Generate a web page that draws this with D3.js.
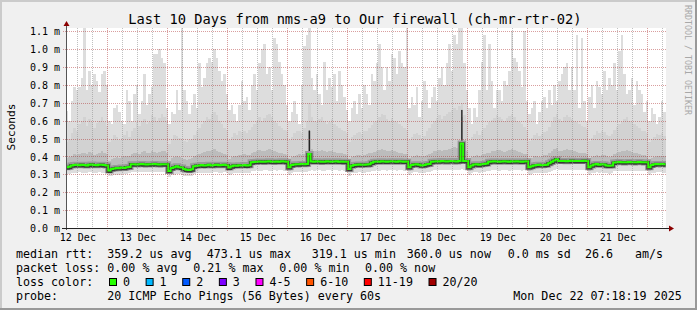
<!DOCTYPE html>
<html>
<head>
<script src="https://d3js.org/d3.v7.min.js"></script>
<style>
  body { margin: 0; background: #f0f0f0; }
  svg { display: block; font-family: 'DejaVu Sans Mono', monospace; }
</style>
</head>
<body>
<div id="chart"></div>
<script>
// hourly samples, Dec 12 07:18 .. Dec 22 07:18, values in microseconds
const rttMedian = [
  339, 342, 350, 352, 353, 351, 354, 352, 350, 353, 355, 352, 351, 353, 354, 352, 350, 321, 330, 333,
  336, 334, 338, 336, 340, 341, 357, 356, 355, 357, 358, 356, 355, 357, 356, 358, 357, 355, 356, 357,
  356, 319, 335, 340, 345, 340, 338, 330, 326, 324, 328, 345, 348, 350, 352, 349, 351, 353, 350, 352,
  354, 351, 352, 353, 351, 338, 345, 350, 348, 351, 350, 352, 349, 351, 367, 369, 370, 372, 371, 370,
  372, 373, 371, 370, 372, 371, 373, 372, 370, 340, 352, 355, 357, 356, 358, 357, 358, 413, 372, 371,
  373, 372, 370, 371, 373, 372, 371, 372, 373, 371, 372, 370, 371, 330, 348, 352, 354, 355, 353, 354,
  355, 356, 365, 370, 372, 371, 373, 372, 371, 372, 373, 372, 371, 373, 372, 371, 372, 340, 352, 355,
  357, 354, 350, 352, 356, 358, 370, 372, 373, 372, 374, 373, 372, 373, 374, 373, 372, 374, 473, 375,
  374, 340, 350, 355, 357, 353, 356, 358, 360, 370, 372, 373, 372, 371, 372, 373, 372, 371, 373, 372,
  373, 372, 371, 372, 373, 340, 345, 350, 352, 353, 351, 352, 354, 362, 370, 378, 385, 375, 374, 375,
  373, 374, 376, 375, 374, 375, 374, 376, 375, 340, 350, 355, 358, 354, 356, 355, 350, 348, 350, 366,
  368, 369, 368, 367, 368, 369, 368, 367, 368, 369, 368, 367, 368, 340, 352, 356, 358, 357, 358, 356
];
const pingMax = [
  655, 600, 710, 790, 770, 790, 840, 1150, 770, 880, 800, 860, 820, 760, 860, 880, 800, 600, 580, 670,
  690, 650, 600, 580, 770, 710, 600, 750, 800, 640, 710, 860, 690, 750, 790, 970, 970, 1000, 950, 920,
  670, 580, 650, 640, 770, 660, 1120, 770, 710, 640, 690, 750, 670, 920, 790, 840, 920, 950, 930, 1000,
  950, 880, 820, 860, 750, 660, 690, 640, 600, 690, 820, 710, 730, 660, 800, 860, 770, 920, 1000, 1030,
  860, 900, 770, 1060, 1030, 930, 860, 800, 690, 600, 650, 710, 640, 580, 800, 1020, 1080, 1150, 840, 770,
  860, 750, 690, 930, 770, 840, 790, 860, 710, 880, 800, 730, 660, 600, 670, 710, 640, 750, 670, 800,
  750, 690, 860, 820, 920, 1030, 900, 770, 900, 820, 970, 950, 860, 990, 920, 900, 1150, 670, 730, 690,
  790, 620, 710, 820, 770, 670, 730, 790, 710, 840, 900, 800, 920, 1030, 880, 1080, 1030, 1150, 1150, 920,
  770, 670, 580, 670, 620, 770, 930, 1080, 770, 1030, 820, 670, 770, 770, 710, 820, 800, 880, 1100, 950,
  930, 880, 790, 1100, 710, 640, 670, 710, 580, 650, 710, 730, 670, 770, 690, 800, 710, 820, 860, 900,
  920, 770, 900, 770, 1080, 670, 1060, 710, 600, 730, 800, 670, 820, 790, 750, 880, 770, 840, 800, 920,
  770, 990, 1080, 860, 750, 770, 840, 690, 820, 770, 750, 650, 710, 600, 670, 640, 580, 620, 710, 650
];
const pingHi = [
  480, 500, 530, 560, 540, 580, 600, 620, 570, 610, 590, 560, 585, 600, 620, 590, 570, 480, 500, 520,
  510, 490, 505, 520, 540, 510, 545, 560, 590, 570, 600, 610, 580, 595, 630, 620, 600, 615, 640, 620,
  600, 470, 500, 520, 515, 505, 495, 485, 480, 490, 500, 520, 545, 560, 580, 600, 620, 610, 640, 650,
  630, 600, 580, 560, 550, 490, 510, 530, 520, 540, 535, 545, 530, 550, 565, 580, 600, 620, 600, 615,
  630, 640, 620, 600, 585, 570, 560, 550, 540, 490, 510, 530, 540, 545, 530, 560, 600, 700, 620, 600,
  590, 610, 620, 600, 580, 590, 610, 580, 570, 560, 550, 540, 530, 480, 510, 520, 530, 535, 525, 540,
  545, 560, 575, 590, 600, 620, 640, 630, 610, 600, 615, 600, 590, 580, 570, 560, 550, 490, 510, 525,
  530, 520, 505, 515, 540, 560, 580, 600, 615, 630, 610, 625, 640, 650, 660, 670, 660, 680, 700, 630,
  600, 490, 510, 525, 540, 520, 545, 560, 575, 590, 605, 615, 630, 620, 610, 600, 615, 625, 640, 620,
  600, 590, 580, 565, 550, 485, 505, 520, 530, 515, 525, 535, 545, 565, 590, 620, 640, 610, 600, 620,
  630, 620, 610, 600, 590, 580, 570, 565, 555, 485, 505, 520, 540, 530, 545, 535, 520, 515, 525, 550,
  565, 580, 590, 610, 620, 600, 590, 580, 570, 560, 545, 540, 530, 480, 500, 510, 525, 520, 530, 515
];
const pingMid = [
  392, 398, 405, 412, 408, 415, 420, 418, 412, 425, 418, 410, 416, 422, 428, 420, 415, 372, 385, 390,
  396, 392, 398, 402, 405, 400, 412, 418, 420, 415, 425, 428, 418, 422, 430, 426, 420, 424, 432, 428,
  420, 368, 390, 398, 404, 396, 392, 386, 380, 384, 390, 402, 410, 415, 420, 425, 430, 428, 435, 440,
  432, 426, 420, 415, 410, 385, 398, 405, 402, 410, 408, 412, 406, 410, 420, 425, 430, 435, 428, 432,
  438, 442, 436, 430, 425, 420, 418, 415, 410, 385, 398, 405, 410, 412, 408, 416, 430, 540, 440, 432,
  428, 432, 436, 430, 425, 428, 432, 426, 422, 420, 418, 415, 410, 380, 395, 402, 406, 408, 404, 410,
  412, 418, 422, 426, 430, 436, 440, 438, 432, 430, 434, 428, 425, 420, 418, 415, 412, 388, 398, 405,
  408, 402, 398, 404, 410, 415, 420, 428, 432, 436, 430, 434, 438, 442, 445, 450, 448, 452, 620, 440,
  430, 385, 398, 404, 408, 402, 410, 414, 418, 422, 428, 432, 438, 435, 430, 426, 432, 436, 440, 434,
  428, 424, 420, 416, 412, 382, 392, 400, 404, 398, 402, 406, 410, 418, 428, 440, 445, 432, 430, 436,
  440, 438, 434, 430, 426, 422, 420, 418, 415, 380, 395, 402, 408, 404, 410, 406, 400, 398, 402, 415,
  420, 425, 428, 432, 436, 430, 426, 422, 418, 414, 410, 408, 405, 380, 392, 398, 404, 402, 405, 400
];
const pingLow = [
  325, 328, 333, 335, 336, 334, 337, 335, 333, 336, 338, 335, 334, 336, 337, 335, 333, 305, 313, 316,
  319, 317, 321, 320, 324, 322, 338, 339, 337, 339, 340, 338, 337, 339, 338, 340, 339, 337, 338, 339,
  338, 304, 318, 322, 327, 322, 320, 313, 310, 308, 312, 328, 331, 333, 335, 332, 334, 336, 333, 335,
  337, 334, 335, 336, 334, 320, 327, 333, 330, 334, 332, 335, 331, 334, 348, 350, 351, 353, 352, 351,
  353, 354, 352, 351, 353, 352, 354, 353, 351, 320, 334, 337, 339, 338, 340, 339, 340, 360, 353, 352,
  354, 353, 351, 352, 354, 353, 352, 353, 354, 352, 353, 351, 352, 311, 329, 333, 335, 336, 334, 335,
  336, 337, 346, 351, 353, 352, 354, 353, 352, 353, 354, 353, 352, 354, 353, 352, 353, 320, 333, 336,
  338, 335, 331, 333, 337, 339, 351, 353, 354, 353, 355, 354, 353, 354, 355, 354, 353, 355, 380, 356,
  355, 320, 331, 336, 338, 334, 337, 339, 341, 351, 353, 354, 353, 352, 353, 354, 353, 352, 354, 353,
  354, 353, 352, 353, 354, 320, 326, 331, 333, 334, 332, 333, 335, 343, 351, 359, 366, 356, 355, 356,
  355, 356, 357, 356, 355, 357, 356, 357, 356, 320, 331, 336, 339, 335, 337, 336, 331, 329, 331, 347,
  349, 350, 349, 348, 349, 350, 349, 348, 349, 350, 349, 348, 349, 320, 333, 337, 339, 338, 339, 337
];
const pingMin = [
  300, 302, 308, 310, 309, 311, 310, 308, 309, 311, 312, 310, 309, 311, 310, 308, 309, 288, 292, 296,
  298, 297, 300, 302, 303, 305, 312, 313, 311, 312, 314, 313, 312, 311, 313, 314, 312, 311, 313, 312,
  311, 286, 294, 298, 302, 300, 298, 292, 290, 289, 291, 302, 305, 308, 309, 307, 308, 310, 309, 311,
  312, 309, 310, 311, 309, 296, 302, 306, 305, 308, 307, 309, 306, 308, 318, 320, 322, 321, 320, 322,
  323, 321, 320, 322, 321, 323, 322, 321, 320, 298, 308, 312, 313, 312, 314, 313, 314, 320, 322, 321,
  323, 322, 320, 321, 323, 322, 321, 322, 323, 321, 322, 320, 321, 292, 305, 309, 310, 311, 309, 310,
  311, 312, 318, 321, 322, 321, 323, 322, 321, 322, 323, 322, 321, 323, 322, 321, 322, 298, 308, 311,
  313, 310, 306, 308, 312, 314, 320, 322, 323, 322, 324, 323, 322, 323, 324, 323, 322, 324, 330, 325,
  324, 298, 306, 311, 313, 309, 312, 314, 316, 320, 322, 323, 322, 321, 322, 323, 322, 321, 323, 322,
  323, 322, 321, 322, 323, 296, 300, 305, 307, 308, 306, 307, 309, 315, 320, 326, 330, 324, 323, 324,
  323, 324, 326, 325, 324, 325, 324, 326, 325, 298, 305, 310, 313, 309, 311, 310, 305, 303, 305, 316,
  318, 319, 318, 317, 318, 319, 318, 317, 318, 319, 318, 317, 318, 296, 306, 310, 312, 311, 312, 310
];
// columns where the inner pings jumped (dark spike) and how high
const spikeCols = [97, 158];
const spikeTops = [545, 660];

const yTicks = [0, 100, 200, 300, 400, 500, 600, 700, 800, 900, 1000, 1100];
const dayLabels = ["12 Dec", "13 Dec", "14 Dec", "15 Dec", "16 Dec", "17 Dec", "18 Dec", "19 Dec", "20 Dec", "21 Dec"];

const titleText = "Last 10 Days from nms-a9 to Our firewall (ch-mr-rtr-02)";
const rttStats = ["359.2 us avg", "473.1 us max", "319.1 us min", "360.0 us now", "0.0 ms sd", "26.6", "am/s"];
const lossStats = ["0.00 % avg", "0.21 % max", "0.00 % min", "0.00 % now"];
const lossLabels = ["0", "1", "2", "3", "4-5", "6-10", "11-19", "20/20"];
const lossColors = ["#26ff00", "#00b8ff", "#0059ff", "#7e00ff", "#ff00ff", "#ff5500", "#ff0000", "#a10000"];
const probeText = "20 ICMP Echo Pings (56 Bytes) every 60s";
const stampText = "Mon Dec 22 07:18:19 2025";

// layout
const W = 697, H = 310;
const pL = 66, pR = 666, pT = 28, pB = 228;
const charW = 7.02;

const start = Date.UTC(2025, 11, 12, 7, 18, 19);
const hours = rttMedian.map((d, i) => new Date(start + i * 3600e3));
const end = new Date(start + rttMedian.length * 3600e3);

const x = d3.scaleUtc().domain([new Date(start), end]).range([pL - 0.4, pR - 0.4]);
const y = d3.scaleLinear().domain([0, 1118]).range([pB, pT]);
const colW = x(hours[1]) - x(hours[0]);

const svg = d3.select("#chart").append("svg")
  .attr("width", W).attr("height", H);

// background + 3d frame
svg.append("rect").attr("width", W).attr("height", H).attr("fill", "#f0f0f0");
svg.append("rect").attr("x", 0).attr("y", 0).attr("width", W).attr("height", 2).attr("fill", "#cbcbcb");
svg.append("rect").attr("x", 0).attr("y", 0).attr("width", 2).attr("height", H).attr("fill", "#cbcbcb");
svg.append("rect").attr("x", W - 2).attr("y", 0).attr("width", 2).attr("height", H).attr("fill", "#999");
svg.append("rect").attr("x", 0).attr("y", H - 2).attr("width", W).attr("height", 2).attr("fill", "#999");

// canvas
svg.append("rect").attr("x", pL).attr("y", pT).attr("width", pR - pL).attr("height", pB - pT)
  .attr("fill", "#fff");
svg.append("clipPath").attr("id", "clip")
  .append("rect").attr("x", pL).attr("y", pT).attr("width", pR - pL).attr("height", pB - pT);

const plot = svg.append("g").attr("clip-path", "url(#clip)");

// smoke bands, outermost first
const bands = [
  { lo: pingMin, hi: pingMax, color: "#dddddd" },
  { lo: pingLow, hi: pingHi, color: "#d2d2d2" },
  { lo: pingLow, hi: pingMid, color: "#bcbcbc" }
];
bands.forEach(b => {
  plot.append("g").attr("shape-rendering", "crispEdges")
    .selectAll("rect").data(hours).join("rect")
    .attr("x", d => x(d))
    .attr("width", colW)
    .attr("y", (d, i) => y(b.hi[i]))
    .attr("height", (d, i) => y(b.lo[i]) - y(b.hi[i]))
    .attr("fill", b.color);
});

// dark inner spikes
plot.append("g").selectAll("rect").data(spikeCols).join("rect")
  .attr("x", c => x(hours[c]) + colW / 2 - 0.7)
  .attr("width", 1.4)
  .attr("y", (c, i) => y(spikeTops[i]))
  .attr("height", (c, i) => y(rttMedian[c]) - y(spikeTops[i]))
  .attr("fill", "#222");

// median line with its dark core of smoke
const medPts = hours.map((t, i) => [x(t), y(rttMedian[i])]);
medPts.push([x(end), y(rttMedian[rttMedian.length - 1])]);
const stepLine = d3.line().curve(d3.curveStepAfter);
plot.append("path").attr("d", stepLine(medPts)).attr("fill", "none")
  .attr("stroke", "#9a9a9a").attr("stroke-width", 6);
plot.append("path").attr("d", stepLine(medPts)).attr("fill", "none")
  .attr("stroke", "#383838").attr("stroke-width", 3.5)
  .attr("transform", "translate(0,0.6)");
plot.append("path").attr("d", stepLine(medPts)).attr("fill", "none")
  .attr("stroke", "#26ff00").attr("stroke-width", 2);

// grid (drawn over the smoke)
const minorCol = "rgba(140,140,140,0.55)";
const majorCol = "rgba(170,40,40,0.45)";
const grid = svg.append("g").attr("shape-rendering", "crispEdges");
const days = x.ticks(d3.utcDay);
const sixHours = x.ticks(d3.utcHour.every(6)).filter(t => t.getUTCHours() !== 0);

grid.selectAll(".minor").data(sixHours).join("line")
  .attr("x1", d => Math.round(x(d)) + 0.5).attr("x2", d => Math.round(x(d)) + 0.5)
  .attr("y1", pT).attr("y2", pB)
  .attr("stroke", minorCol).attr("stroke-dasharray", "1,1");
grid.selectAll(".major").data(days).join("line")
  .attr("x1", d => Math.round(x(d)) + 0.5).attr("x2", d => Math.round(x(d)) + 0.5)
  .attr("y1", pT).attr("y2", pB + 3)
  .attr("stroke", majorCol).attr("stroke-dasharray", "1,1");
grid.selectAll(".hgrid").data(yTicks.slice(1)).join("line")
  .attr("x1", pL - 3).attr("x2", pR)
  .attr("y1", d => Math.round(y(d)) + 0.5).attr("y2", d => Math.round(y(d)) + 0.5)
  .attr("stroke", majorCol).attr("stroke-dasharray", "1,1");

// axes
const yAxis = d3.axisLeft(y).tickValues(yTicks).tickSize(0).tickPadding(6)
  .tickFormat(d => (d / 1000).toFixed(1) + " m");
const yG = svg.append("g").attr("transform", `translate(${pL},0)`).call(yAxis);
yG.select(".domain").remove();
yG.selectAll("text").attr("font-size", 10).attr("font-family", "'DejaVu Sans Mono', monospace")
  .attr("fill", "#000").attr("dy", "0.36em");

const labelTimes = dayLabels.map((s, i) => new Date(Date.UTC(2025, 11, 12 + i, 12)));
const xAxis = d3.axisBottom(x).tickValues(labelTimes).tickSize(0).tickPadding(0)
  .tickFormat((d, i) => dayLabels[i]);
const xG = svg.append("g").attr("transform", `translate(0,${pB})`).call(xAxis);
xG.select(".domain").remove();
xG.selectAll("text").attr("font-size", 10).attr("font-family", "'DejaVu Sans Mono', monospace")
  .attr("fill", "#000").attr("y", 12.5).attr("dy", 0);

// axis lines + arrows
svg.append("line").attr("x1", pL + 0.5).attr("x2", pL + 0.5).attr("y1", pB + 2).attr("y2", pT - 4)
  .attr("stroke", "#555");
svg.append("line").attr("x1", pL - 4).attr("x2", pR + 4).attr("y1", pB + 0.5).attr("y2", pB + 0.5)
  .attr("stroke", "#222");
svg.append("path").attr("d", `M${pL + 0.5},${pT - 7} L${pL - 2.5},${pT - 2} L${pL + 3.5},${pT - 2} Z`)
  .attr("fill", "#8b0000");
svg.append("path").attr("d", `M${pR + 8},${pB + 0.5} L${pR + 3},${pB - 2.5} L${pR + 3},${pB + 3.5} Z`)
  .attr("fill", "#8b0000");

// title and side texts
svg.append("text").attr("x", 128.3).attr("y", 24)
  .attr("font-size", 13.7).text(titleText);
svg.append("text").attr("transform", "translate(15,127) rotate(-90)").attr("text-anchor", "middle")
  .attr("font-size", 11.2).text("Seconds");
svg.append("text").attr("transform", "translate(684.5,5) rotate(90)")
  .attr("font-size", 8.3).attr("fill", "#a8a8a8").text("RRDTOOL / TOBI OETIKER");

// legend
const leg = svg.append("g").attr("font-size", 11.66).attr("fill", "#000");
const rowY = [258, 272, 286, 300];
const col1 = 107.3;

leg.append("text").attr("x", 16).attr("y", rowY[0]).text("median rtt:");
const rttX = [107.3, 206.7, 311.7, 406.7, 507.7, 585, 635];
leg.selectAll(".rtt").data(rttStats).join("text")
  .attr("x", (d, i) => rttX[i]).attr("y", rowY[0]).text(d => d);

leg.append("text").attr("x", 16).attr("y", rowY[1]).text("packet loss:");
const lossX = [107.3, 193.3, 279.3, 365];
leg.selectAll(".loss").data(lossStats).join("text")
  .attr("x", (d, i) => lossX[i]).attr("y", rowY[1]).text(d => d);

leg.append("text").attr("x", 16).attr("y", rowY[2]).text("loss color:");
let bx = 109.5;
lossLabels.forEach((lab, i) => {
  leg.append("rect").attr("x", bx).attr("y", 278.5).attr("width", 7).attr("height", 7)
    .attr("fill", lossColors[i]).attr("stroke", "#000").attr("stroke-width", 1);
  leg.append("text").attr("x", bx + 13.5).attr("y", rowY[2]).text(lab);
  bx += 14 + lab.length * charW + 15.6;
});

leg.append("text").attr("x", 16).attr("y", rowY[3]).text("probe:");
leg.append("text").attr("x", col1).attr("y", rowY[3]).text(probeText);
leg.append("text").attr("x", 513.3).attr("y", rowY[3]).text(stampText);
</script>
</body>
</html>
